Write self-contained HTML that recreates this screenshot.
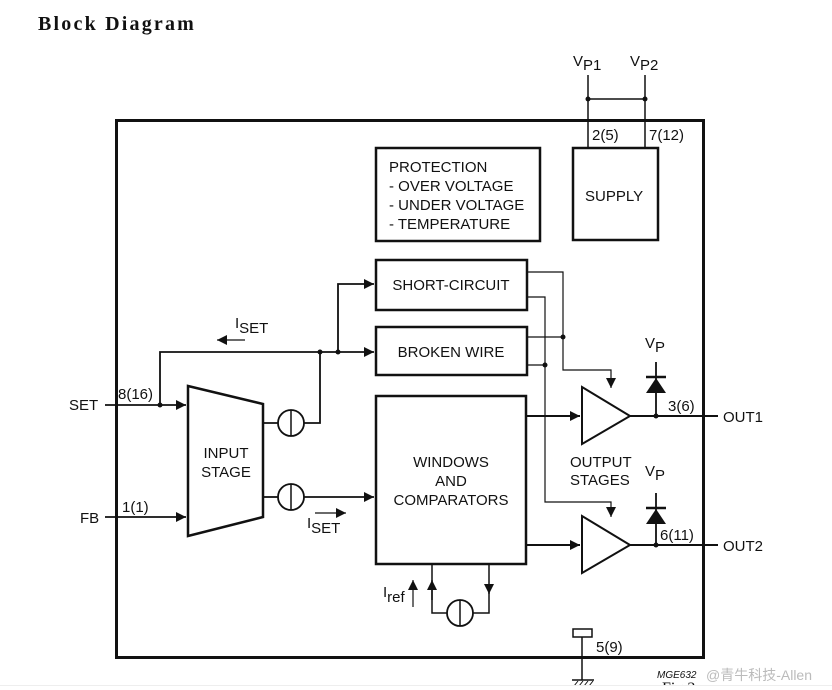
<!DOCTYPE html>
<html><head><meta charset="utf-8"><style>
html,body{margin:0;padding:0;background:#fff;width:832px;height:690px;overflow:hidden}
svg{display:block}
text{font-family:"Liberation Sans",Arial,sans-serif;fill:#111}
</style></head><body>
<svg width="832" height="690" viewBox="0 0 832 690" xmlns="http://www.w3.org/2000/svg">
<defs>
<marker id="a" viewBox="0 0 10 10" refX="10" refY="5" markerWidth="10" markerHeight="10" markerUnits="userSpaceOnUse" orient="auto"><path d="M0,0 L10,5 L0,10z" fill="#111"/></marker>
</defs>
<text x="38" y="30" style="font-family:'Liberation Serif',serif;font-weight:bold;font-size:20px;letter-spacing:2.2px">Block Diagram</text>
<g stroke="#111" fill="none">
<rect x="116.5" y="120.5" width="587" height="537" stroke-width="3"/>
<rect x="573" y="148" width="85" height="92" stroke-width="2.5"/>
<path d="M588,75 V148 M645,75 V148 M588,99 H645" stroke-width="1.5"/>
<rect x="376" y="148" width="164" height="93" stroke-width="2.5"/>
<rect x="376" y="260" width="151" height="50" stroke-width="2.5"/>
<rect x="376" y="327" width="151" height="48" stroke-width="2.5"/>
<rect x="376" y="396" width="150" height="168" stroke-width="2.5"/>
<path d="M188,386 L263,404 L263,517 L188,536 Z" stroke-width="2.5"/>
<path d="M105,405 H186" stroke-width="1.8" marker-end="url(#a)"/>
<path d="M105,517 H186" stroke-width="1.8" marker-end="url(#a)"/>
<path d="M160,405 V352 H374" stroke-width="1.8" marker-end="url(#a)"/>
<path d="M338,352 V284 H374" stroke-width="1.8" marker-end="url(#a)"/>
<circle cx="291" cy="423" r="13" stroke-width="1.8"/><path d="M291,410 V436" stroke-width="1.5"/>
<circle cx="291" cy="497" r="13" stroke-width="1.8"/><path d="M291,484 V510" stroke-width="1.5"/>
<path d="M263,423 H278 M304,423 H320 V352" stroke-width="1.8"/>
<path d="M263,497 H278" stroke-width="1.8"/>
<path d="M304,497 H374" stroke-width="1.8" marker-end="url(#a)"/>
<path d="M245,340 H217" stroke-width="1.2" marker-end="url(#a)"/>
<path d="M315,513 H346" stroke-width="1.2" marker-end="url(#a)"/>
<path d="M527,272 H563 V370 H611 V388" stroke-width="1.2" marker-end="url(#a)"/>
<path d="M527,297 H545 V502 H611 V517" stroke-width="1.2" marker-end="url(#a)"/>
<path d="M527,337 H563 M527,365 H545" stroke-width="1.2"/>
<path d="M582,387 L630,416 L582,444 Z" stroke-width="2"/>
<path d="M582,516 L630,545 L582,573 Z" stroke-width="2"/>
<path d="M526,416 H580" stroke-width="2" marker-end="url(#a)"/>
<path d="M526,545 H580" stroke-width="2" marker-end="url(#a)"/>
<path d="M630,416 H718 M630,545 H718" stroke-width="2"/>
<path d="M656,362 V416 M656,493 V545" stroke-width="1.8"/>
<path d="M646,377 H666 M646,508 H666" stroke-width="2.5"/>
<path d="M489,564 V594" stroke-width="1.5" marker-end="url(#a)"/>
<path d="M489,590 V613 H473 M447,613 H432 V580" stroke-width="1.5"/>
<path d="M432,600 V580" stroke-width="1.5" marker-end="url(#a)"/>
<path d="M432,580 V564" stroke-width="1.5"/>
<circle cx="460" cy="613" r="13" stroke-width="1.8"/><path d="M460,600 V626" stroke-width="1.5"/>
<path d="M413,607 V580" stroke-width="1.2" marker-end="url(#a)"/>
<rect x="573" y="629" width="19" height="8" stroke-width="1.5"/>
<path d="M582,637 V680 M572,680 H594" stroke-width="1.5"/>
<path d="M574,686 L578,681 M579,686 L583,681 M584,686 L588,681 M589,686 L593,681" stroke-width="1"/>
</g>
<g fill="#111">
<circle cx="588" cy="99" r="2.5"/><circle cx="645" cy="99" r="2.5"/>
<circle cx="160" cy="405" r="2.5"/><circle cx="320" cy="352" r="2.5"/><circle cx="338" cy="352" r="2.5"/>
<circle cx="563" cy="337" r="2.5"/><circle cx="545" cy="365" r="2.5"/>
<circle cx="656" cy="416" r="2.5"/><circle cx="656" cy="545" r="2.5"/>
<path d="M646,393 L656,378 L666,393 Z"/><path d="M646,524 L656,509 L666,524 Z"/>
</g>
<g font-size="15">
<text x="573" y="66">V<tspan dy="4">P1</tspan></text>
<text x="630" y="66">V<tspan dy="4">P2</tspan></text>
<text x="592" y="140">2(5)</text>
<text x="649" y="140">7(12)</text>
<text x="585" y="201">SUPPLY</text>
<text x="389" y="172">PROTECTION</text>
<text x="389" y="191">- OVER VOLTAGE</text>
<text x="389" y="210">- UNDER VOLTAGE</text>
<text x="389" y="229">- TEMPERATURE</text>
<text x="451" y="290" text-anchor="middle">SHORT-CIRCUIT</text>
<text x="451" y="357" text-anchor="middle">BROKEN WIRE</text>
<text x="451" y="467" text-anchor="middle">WINDOWS</text>
<text x="451" y="486" text-anchor="middle">AND</text>
<text x="451" y="505" text-anchor="middle">COMPARATORS</text>
<text x="226" y="458" text-anchor="middle">INPUT</text>
<text x="226" y="477" text-anchor="middle">STAGE</text>
<text x="69" y="410">SET</text>
<text x="80" y="523">FB</text>
<text x="118" y="399">8(16)</text>
<text x="122" y="512">1(1)</text>
<text x="235" y="328">I<tspan dy="5">SET</tspan></text>
<text x="307" y="528">I<tspan dy="5">SET</tspan></text>
<text x="383" y="597">I<tspan dy="5">ref</tspan></text>
<text x="645" y="348">V<tspan dy="4">P</tspan></text>
<text x="645" y="476">V<tspan dy="4">P</tspan></text>
<text x="668" y="411">3(6)</text>
<text x="660" y="540">6(11)</text>
<text x="723" y="422">OUT1</text>
<text x="723" y="551">OUT2</text>
<text x="570" y="467">OUTPUT</text>
<text x="570" y="485">STAGES</text>
<text x="596" y="652">5(9)</text>
</g>
<text x="657" y="678" font-size="10" font-style="italic">MGE632</text>
<text x="662" y="693" style="font-family:'Liberation Serif',serif;font-size:16px">Fig 3</text>
<text x="706" y="680" font-size="14" style="font-family:'Liberation Sans','Noto Sans CJK SC',sans-serif;fill:#bbb">@青牛科技-Allen</text>
<rect x="0" y="685" width="832" height="5" fill="#fff"/>
<path d="M0,685.5 H832" stroke="#eee" stroke-width="1"/>
</svg>
</body></html>
